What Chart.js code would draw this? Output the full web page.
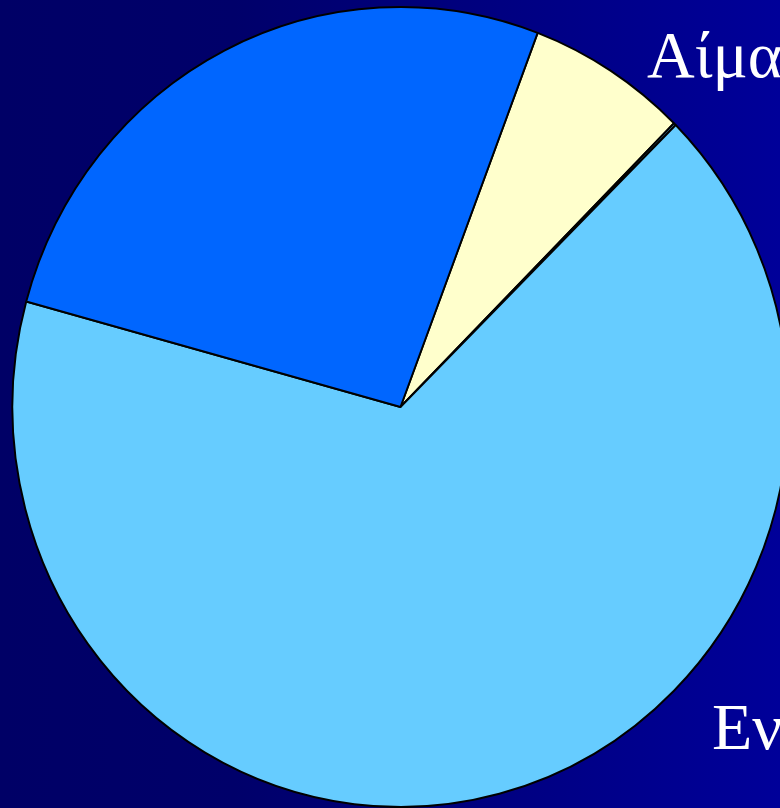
<!DOCTYPE html>
<html>
<head>
<meta charset="utf-8">
<script src="https://cdn.jsdelivr.net/npm/chart.js@4/dist/chart.umd.min.js"></script>
<style>
  html, body { margin: 0; padding: 0; width: 780px; height: 808px; overflow: hidden;
    background: linear-gradient(to right, #000066 0%, #00006a 30%, #000099 100%); }
  #wrap { position: relative; width: 780px; height: 808px; overflow: hidden; }
  canvas { position: absolute; left: 0; top: 0; }
  .probe { font-family: 'Liberation Serif'; position: absolute; left: -999px; }
</style>
</head>
<body>
<div class="probe">Αίμα Εν</div>
<div id="wrap"><canvas id="c" width="820" height="808"></canvas></div>
<script>
// Data (percent of whole), clockwise from the start angle
const categories = ["Αίμα", "Άλλο", "Εν", "Λοιπά"];
const values = [6.7, 0.1, 66.7, 26.5];
const sliceColors = ["#FFFFCC", "#66CCFF", "#66CCFF", "#0066FF"];
const startAngle = 20.7;
const visibleLabels = [
  { text: "Αίμα", x: 647, y: 77 },
  { text: "Εν", x: 712, y: 749 }
];

const squeeze = {
  id: 'squeeze',
  beforeDatasetsDraw(chart) {
    const meta = chart.getDatasetMeta(0);
    const cx = meta.data[0].x;
    const ctx = chart.ctx;
    ctx.save();
    ctx.translate(cx, 0);
    ctx.scale(388 / 400, 1);
    ctx.translate(-cx, 0);
  },
  afterDatasetsDraw(chart) {
    chart.ctx.restore();
  }
};

const textPlugin = {
  id: 'texts',
  afterDraw(chart) {
    const ctx = chart.ctx;
    ctx.save();
    ctx.fillStyle = '#FFFFFF';
    ctx.font = "66px 'Liberation Serif'";
    ctx.textBaseline = 'alphabetic';
    ctx.textAlign = 'left';
    visibleLabels.forEach(l => ctx.fillText(l.text, l.x, l.y));
    ctx.restore();
  }
};

new Chart(document.getElementById('c'), {
  type: 'pie',
  data: {
    labels: categories,
    datasets: [{
      data: values,
      backgroundColor: sliceColors,
      borderColor: '#000000',
      borderWidth: 2,
      hoverOffset: 0
    }]
  },
  options: {
    responsive: false,
    animation: false,
    rotation: startAngle,
    radius: 400,
    layout: { padding: { left: 0, right: 19, top: 6, bottom: 0 } },
    plugins: { legend: { display: false }, tooltip: { enabled: false } },
    events: []
  },
  plugins: [squeeze, textPlugin]
});
</script>
</body>
</html>
